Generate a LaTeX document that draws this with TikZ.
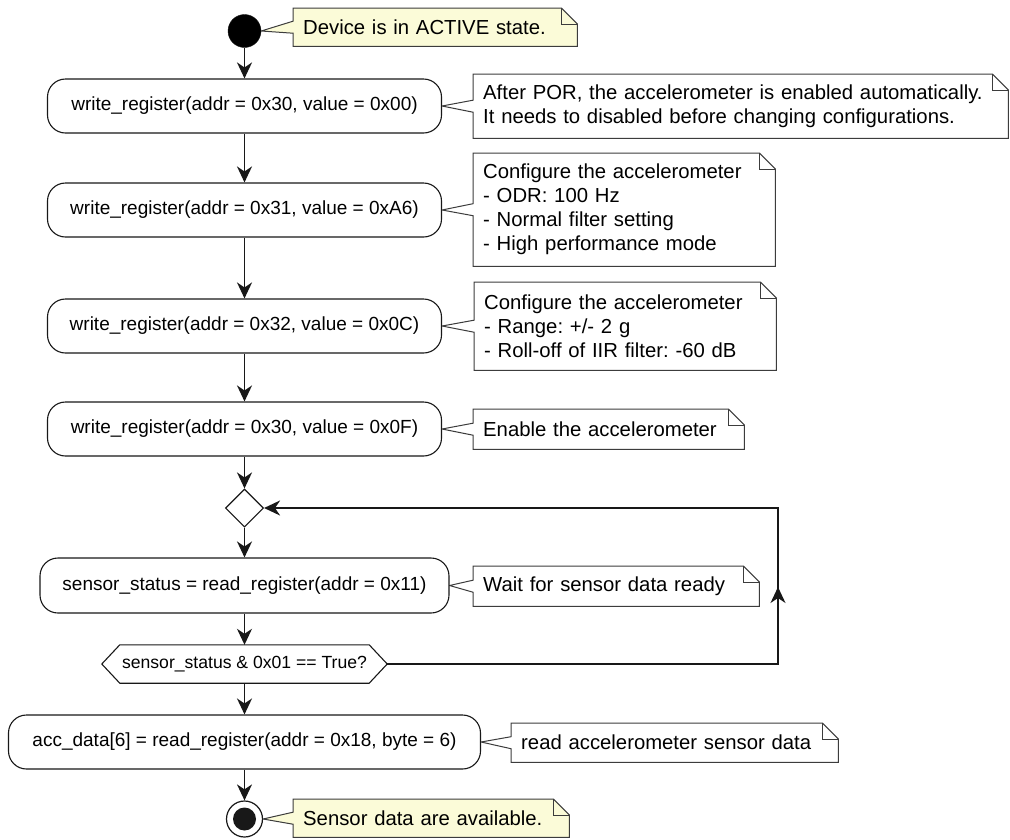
\documentclass[tikz,border=0pt]{standalone}
\usepackage{fontspec}
\setmainfont{Liberation Sans}
\usetikzlibrary{shapes.geometric,arrows.meta,backgrounds}
\definecolor{noteyellow}{RGB}{251,251,216}
\definecolor{noteborder}{RGB}{60,60,60}
\definecolor{lineblack}{RGB}{24,24,24}
\newcommand{\actfont}{\frenchspacing\fontsize{19}{22}\selectfont}
\newcommand{\notefont}{\frenchspacing\fontsize{20.3}{24}\selectfont}
\newcommand{\hexfont}{\frenchspacing\fontsize{17.6}{20}\selectfont}
\newcommand{\drawnote}[3]{%
  \draw[noteline, fill=#3] (#1.north west) -- ([xshift=-16pt]#1.north east)
    -- ([yshift=-16pt]#1.north east) -- (#1.south east) -- (#1.south west)
    -- ([yshift=-6pt]#1.west) -- (#2) -- ([yshift=6pt]#1.west) -- cycle;
  \draw[noteline] ([xshift=-16pt]#1.north east) |- ([yshift=-16pt]#1.north east);}
\begin{document}
\begin{tikzpicture}[x=1pt,y=-1pt,
  act/.style={draw=lineblack, line width=1.1pt, rounded corners=18pt, fill=white,
    minimum width=#1, minimum height=54pt, inner sep=0pt, font=\actfont},
  act/.default=394pt,
  notebox/.style 2 args={inner xsep=10pt, inner ysep=0pt, minimum height=#2,
    text width=#1, align=left, anchor=north west, font=\notefont},
  noteline/.style={draw=noteborder, line width=1pt},
  flow/.style={draw=lineblack, line width=1.6pt, -{Stealth[length=16pt,width=15pt,inset=5pt]}},
  startdot/.style={circle, fill=black, draw=lineblack, minimum size=33pt, inner sep=0pt},
  endring/.style={circle, fill=white, draw=lineblack, line width=1.2pt, minimum size=36pt, inner sep=0pt},
  enddot/.style={circle, fill=lineblack, minimum size=23pt, inner sep=0pt},
  merge/.style={diamond, draw=lineblack, line width=1.1pt, fill=white, minimum width=38pt, minimum height=38pt, inner sep=0pt, aspect=1},
  hexbox/.style={minimum width=285pt, minimum height=38pt, inner sep=0pt, font=\hexfont},
  hexline/.style={draw=lineblack, line width=1.1pt}
]
\useasboundingbox (0,0) rectangle (1010,839);

% start
\node[startdot] (start) at (244.5,31) {};
\node[notebox={264pt}{38pt}] (nstart) at (293,8) {Device is in ACTIVE state.};

% activities
\node[act] (a1) at (244.5,106) {write\_register(addr = 0x30, value = 0x00)};
\node[notebox={515pt}{64pt}] (n1) at (473,74) {\mbox{After POR, the accelerometer is enabled automatically.}\\\mbox{It needs to disabled before changing configurations.}};

\node[act] (a2) at (244.5,210) {write\_register(addr = 0x31, value = 0xA6)};
\node[notebox={282pt}{113pt}] (n2) at (473,153) {Configure the accelerometer\\- ODR: 100 Hz\\- Normal filter setting\\- High performance mode};

\node[act] (a3) at (244.5,326) {write\_register(addr = 0x32, value = 0x0C)};
\node[notebox={282pt}{88pt}] (n3) at (474,282) {Configure the accelerometer\\- Range: +/- 2 g\\- Roll-off of IIR filter: -60 dB};

\node[act] (a4) at (244.5,429) {write\_register(addr = 0x30, value = 0x0F)};
\node[notebox={251pt}{40pt}] (n4) at (473,409) {Enable the accelerometer};

\node[merge] (dia) at (244.5,508) {};

\node[act=409pt, minimum height=55pt] (a5) at (244.5,585.5) {sensor\_status = read\_register(addr = 0x11)};
\node[notebox={266pt}{40pt}] (n5) at (473,566) {Wait for sensor data ready};

\node[hexbox] (hex) at (244.5,664) {sensor\_status \& 0x01 == True?};
\draw[hexline] (hex.west) -- ([xshift=18pt]hex.north west) -- ([xshift=-18pt]hex.north east)
  -- (hex.east) -- ([xshift=-18pt]hex.south east) -- ([xshift=18pt]hex.south west) -- cycle;

\node[act=472pt] (a6) at (244.5,742) {acc\_data[6] = read\_register(addr = 0x18, byte = 6)};
\node[notebox={307pt}{39pt}] (n6) at (511,723) {read accelerometer sensor data};

% end
\node[endring] (stop) at (244.5,819) {};
\node[enddot] (stopin) at (stop) {};
\node[notebox={256pt}{38pt}] (nend) at (293,799) {Sensor data are available.};

% notes outlines
\begin{scope}[on background layer]
  \drawnote{nstart}{start.east}{noteyellow}
  \drawnote{n1}{a1.east}{white}
  \drawnote{n2}{a2.east}{white}
  \drawnote{n3}{a3.east}{white}
  \drawnote{n4}{a4.east}{white}
  \drawnote{n5}{a5.east}{white}
  \drawnote{n6}{a6.east}{white}
  \drawnote{nend}{stop.east}{noteyellow}
\end{scope}

% flow
\draw[flow] (start) -- (a1);
\draw[flow] (a1) -- (a2);
\draw[flow] (a2) -- (a3);
\draw[flow] (a3) -- (a4);
\draw[flow] (a4) -- (dia);
\draw[flow] (dia) -- (a5);
\draw[flow] (a5) -- (hex.north);
\draw[flow] (hex.south) -- (a6);
\draw[flow] (a6) -- (stop);

% loop back
\coordinate (lb) at (778,664);
\coordinate (lt) at (778,508);
\coordinate (lm) at (778,587);
\draw[flow] (hex.east) -- (lb) -- (lt) -- (dia.east);
\draw[flow] (lb) -- (lm);
\end{tikzpicture}
\end{document}
